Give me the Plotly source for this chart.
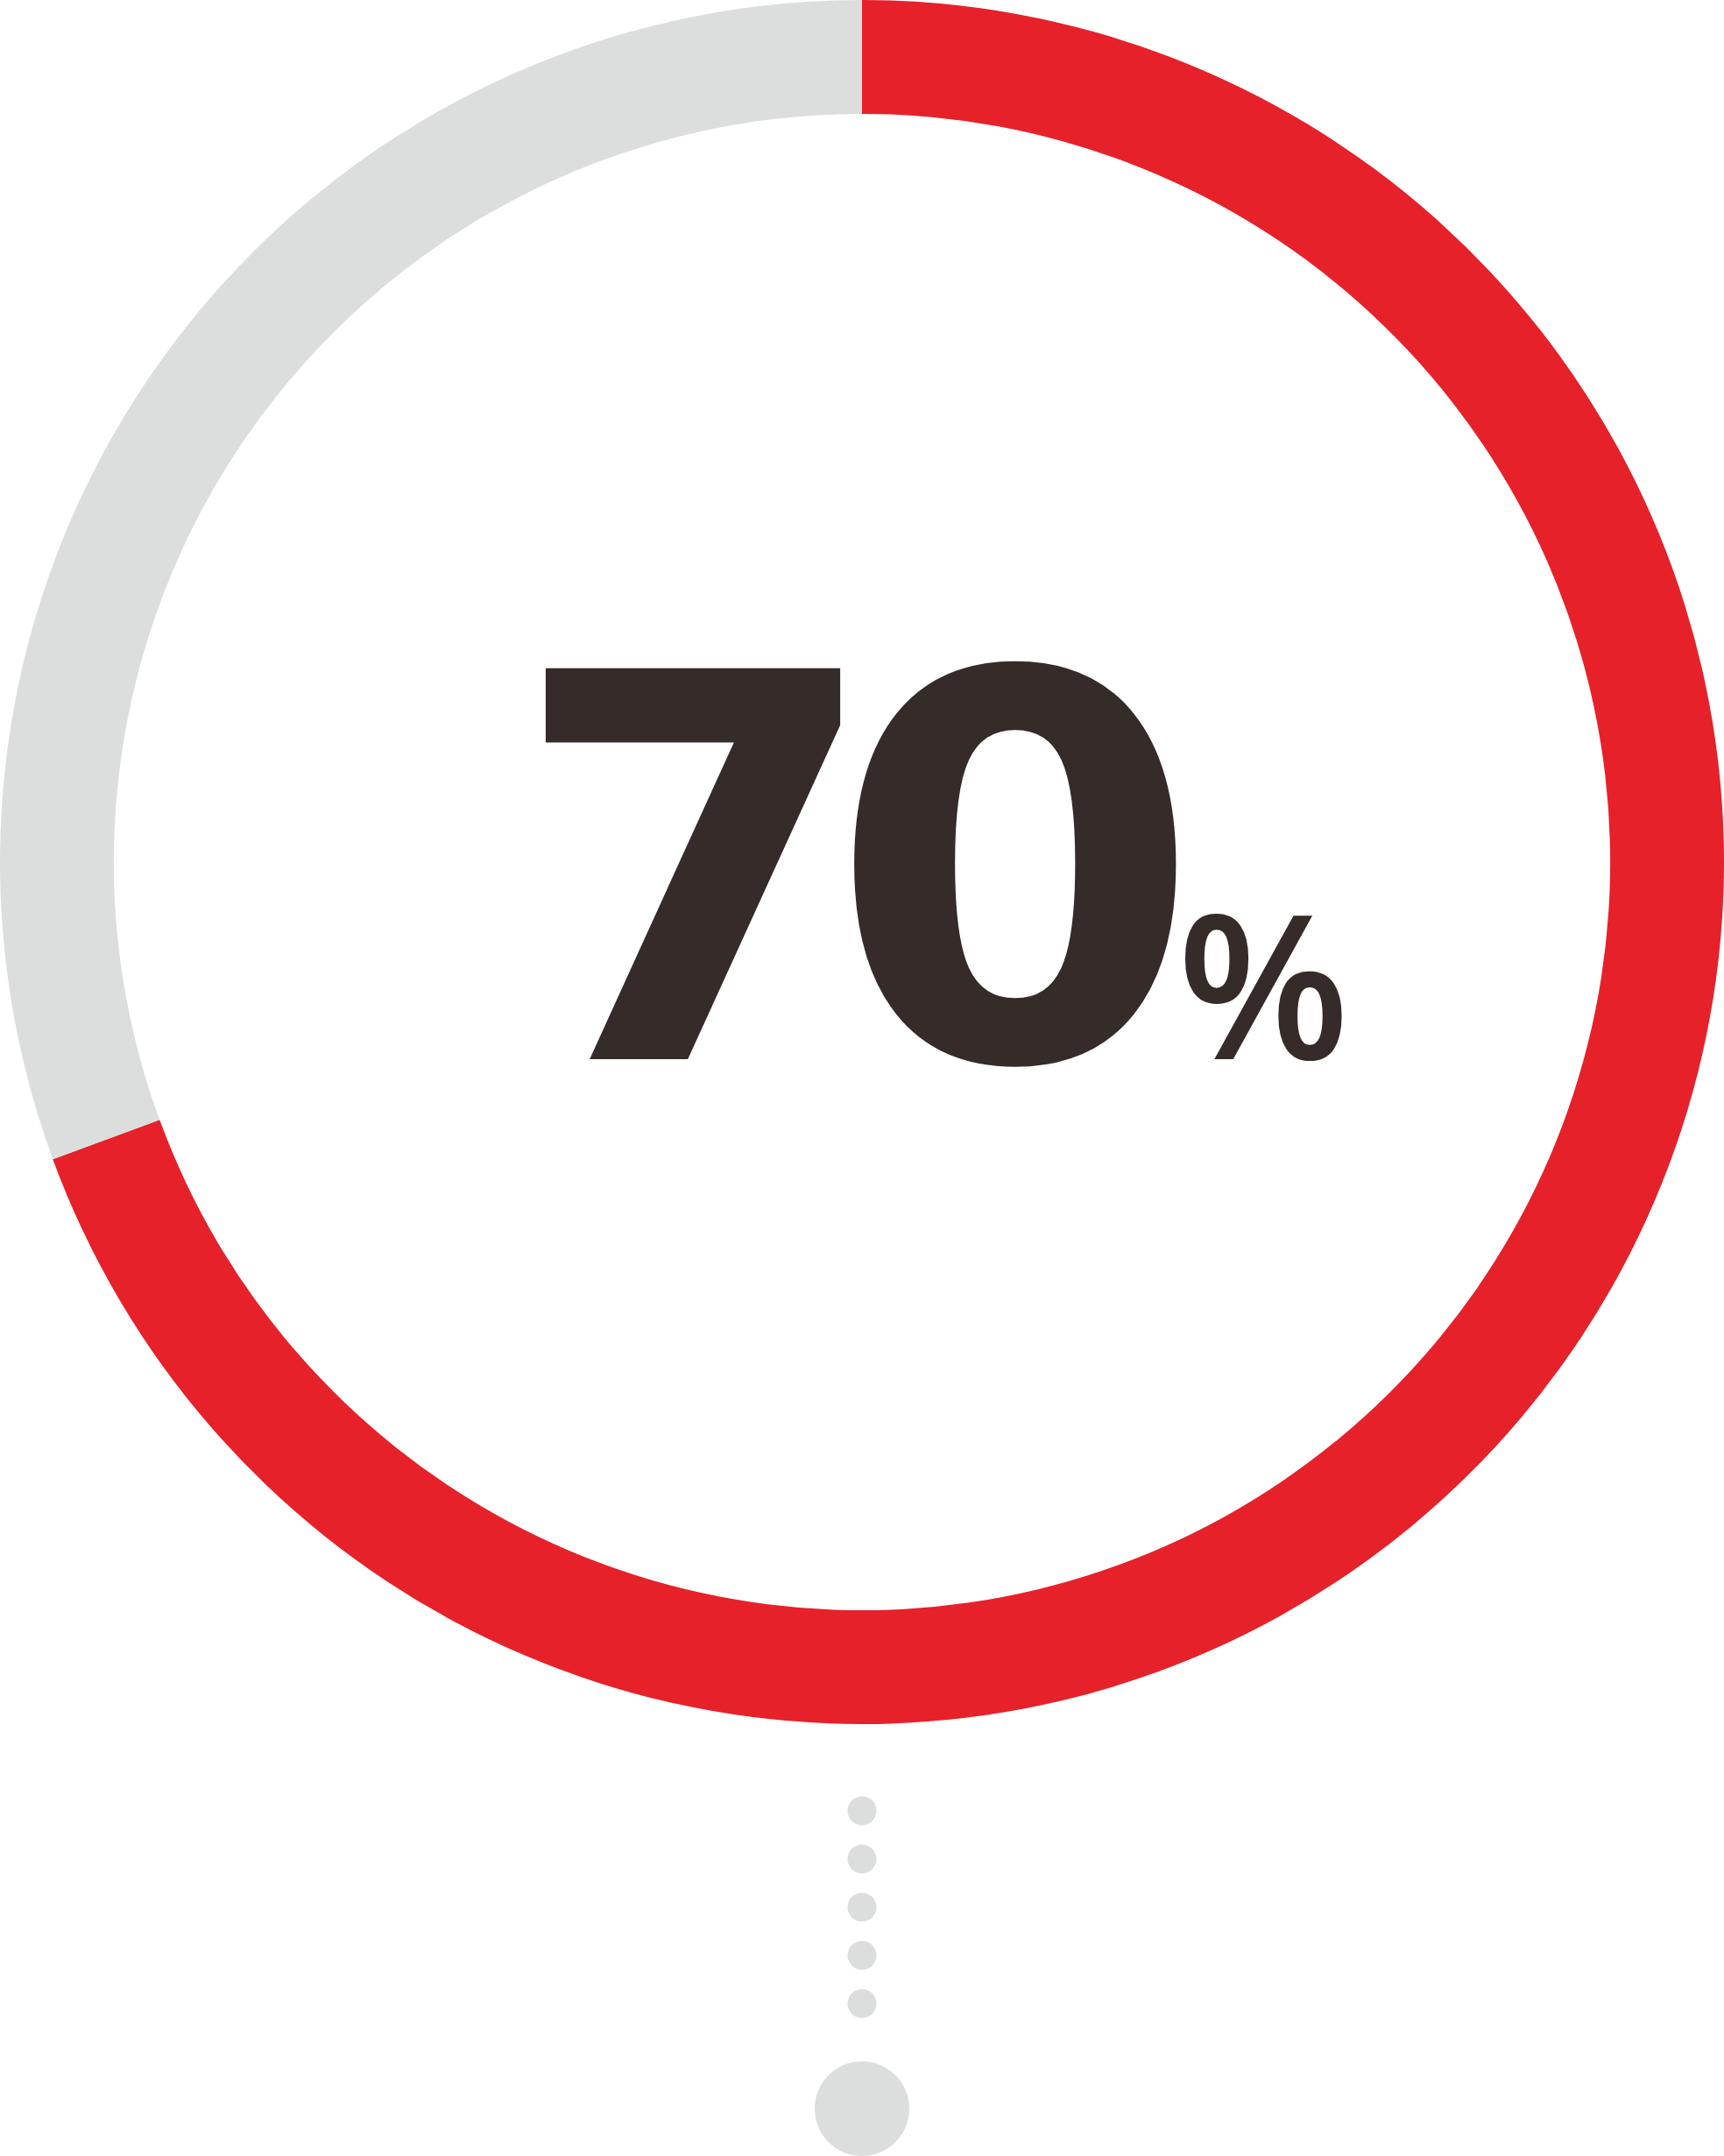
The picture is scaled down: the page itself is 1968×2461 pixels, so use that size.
import plotly.graph_objects as go

# ring values (share shown vs. remainder)
labels = ['Yes', 'Other']
values = [69.4, 30.6]
colors = ['#E6212A', '#DCDEDD']

big_label = '70'
unit_label = '%'

# dotted stem under the ring (page pixel coords)
dot_x = [984, 984, 984, 984, 984, 984]
dot_y = [2067, 2122, 2177, 2232, 2287, 2407]
dot_size = [33, 33, 33, 33, 33, 108]

W, H = 1968, 2461
ink = '#352C2A'

fig = go.Figure()

fig.add_trace(go.Pie(
    labels=labels, values=values,
    marker=dict(colors=colors, line=dict(width=0)),
    hole=0.868, sort=False, direction='clockwise', rotation=0,
    textinfo='none', hoverinfo='label+percent', showlegend=False,
    domain=dict(x=[0, 1], y=[1 - W / H, 1]),
))

fig.add_trace(go.Scatter(
    x=dot_x, y=dot_y, mode='markers',
    marker=dict(size=dot_size, color='#DCDEDD', opacity=1, line=dict(width=0)),
    hoverinfo='skip', showlegend=False,
))

# number and small % share one baseline (~1209px); digits are set tight
spacing = [-62, -28]
number = ''.join(f"<span style='letter-spacing:{s}px'>{ch}</span>"
                 for ch, s in zip(big_label, spacing))
unit = ("<span style='font-family:Open Sans;font-size:228px;font-weight:600'>"
        f"{unit_label}</span>")

fig.add_annotation(x=580, y=997, xref='x', yref='y', text=number + unit,
                   showarrow=False, xanchor='left', yanchor='middle',
                   font=dict(family='DejaVu Sans', size=612, color=ink, weight=700))

fig.update_layout(
    width=W, height=H,
    margin=dict(l=0, r=0, t=0, b=0),
    paper_bgcolor='white', plot_bgcolor='rgba(0,0,0,0)',
    xaxis=dict(range=[0, W], visible=False, fixedrange=True),
    yaxis=dict(range=[H, 0], visible=False, fixedrange=True),
)

# page body has a default margin; drop it so the figure sits at 0,0
fig.write_html("out.html", config={'displayModeBar': False},
               post_script="document.body.style.margin='0px';")
